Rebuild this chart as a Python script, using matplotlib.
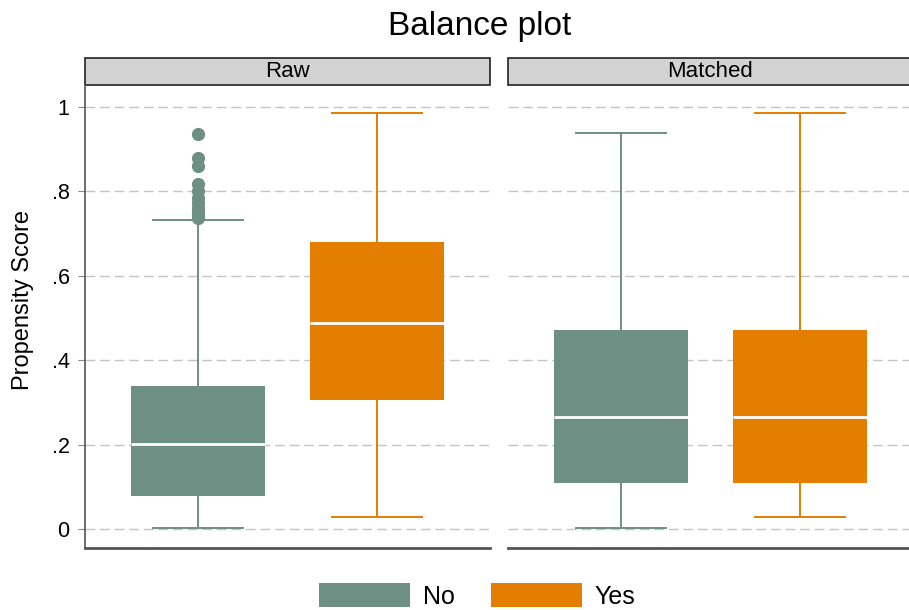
import matplotlib
matplotlib.use("Agg")
import matplotlib.pyplot as plt
from matplotlib.patches import Patch, Rectangle

plt.rcParams['font.family'] = ['Liberation Sans', 'DejaVu Sans']

# data (propensity score summaries)
panels = ["Raw", "Matched"]
groups = ["No", "Yes"]
colors = {"No": "#6e8f84", "Yes": "#e37e00"}

# whislo, q1, med, q3, whishi per panel / group
raw_no = [0.002, 0.078, 0.201, 0.339, 0.732]
raw_yes = [0.028, 0.306, 0.488, 0.680, 0.986]
matched_no = [0.002, 0.109, 0.265, 0.472, 0.938]
matched_yes = [0.028, 0.109, 0.265, 0.472, 0.986]
raw_no_outliers = [0.936, 0.878, 0.859, 0.818, 0.800, 0.785, 0.772, 0.761,
                   0.752, 0.744, 0.738]

stats_data = {
    "Raw": {"No": (raw_no, raw_no_outliers), "Yes": (raw_yes, [])},
    "Matched": {"No": (matched_no, []), "Yes": (matched_yes, [])},
}

ytick_vals = [0, 0.2, 0.4, 0.6, 0.8, 1.0]
ytick_labels = ["0", ".2", ".4", ".6", ".8", "1"]

W, H = 909, 610
fig = plt.figure(figsize=(W / 100, H / 100), dpi=100)

def px_box(x0, y0, x1, y1):
    # pixel rect (top-left origin) to figure fraction
    return [x0 / W, 1 - y1 / H, (x1 - x0) / W, (y1 - y0) / H]

axes_px = [(85, 85, 490, 548), (508, 85, 913, 548)]

for i, name in enumerate(panels):
    ax = fig.add_axes(px_box(*axes_px[i]))
    for j, g in enumerate(groups):
        vals, fl = stats_data[name][g]
        st = dict(whislo=vals[0], q1=vals[1], med=vals[2], q3=vals[3],
                  whishi=vals[4], fliers=fl)
        c = colors[g]
        ax.bxp([st], positions=[j + 1], widths=0.752, capwidths=[0.505],
               patch_artist=True, showfliers=True,
               boxprops=dict(facecolor=c, edgecolor="none", linewidth=0),
               medianprops=dict(color="white", linewidth=2),
               whiskerprops=dict(color=c, linewidth=1.4),
               capprops=dict(color=c, linewidth=1.4),
               flierprops=dict(marker="o", markerfacecolor=c,
                               markeredgecolor=c, markersize=8.5),
               zorder=3)
    ax.set_xlim(0.3636, 2.636)
    ax.set_ylim(-0.045, 1.052)
    ax.set_yticks(ytick_vals)
    ax.set_xticks([])
    ax.grid(axis="y", color="#c4c4c4", linestyle=(0, (7, 3.5)), linewidth=1.0)
    ax.set_axisbelow(True)
    for s in ["top", "right"]:
        ax.spines[s].set_visible(False)
    ax.spines["bottom"].set_color("#555555")
    ax.spines["bottom"].set_linewidth(2)
    if i == 0:
        ax.set_yticklabels(ytick_labels, fontsize=15.5)
        ax.spines["left"].set_color("#555555")
        ax.spines["left"].set_linewidth(1.2)
        ax.tick_params(axis="y", length=5, color="#888888", pad=6)
        ax.set_ylabel("Propensity Score", fontsize=17)
        ax.yaxis.set_label_coords(-0.127, 0.535)
    else:
        ax.spines["left"].set_visible(False)
        ax.tick_params(axis="y", length=0, labelleft=False)

    # strip header
    strip = Rectangle((0, 1.0), 1, 27 / 463, transform=ax.transAxes,
                      facecolor="#d3d3d3", edgecolor="#222222", linewidth=1.2,
                      clip_on=False)
    ax.add_patch(strip)
    ax.text(0.5, 1.0 + 13.5 / 463, name, transform=ax.transAxes,
            ha="center", va="center", fontsize=16)

fig.text(480 / W, 1 - 26 / H, "Balance plot", ha="center", va="center",
         fontsize=24)

handles = [Patch(facecolor=colors[g], edgecolor="none", label=g) for g in groups]
fig.legend(handles=handles, loc="center", bbox_to_anchor=(477 / W, 1 - 596 / H),
           ncol=2, frameon=False, fontsize=18, handlelength=3.64,
           handleheight=1.05, columnspacing=1.44, handletextpad=0.52)

fig.savefig("out.png", dpi=100)
